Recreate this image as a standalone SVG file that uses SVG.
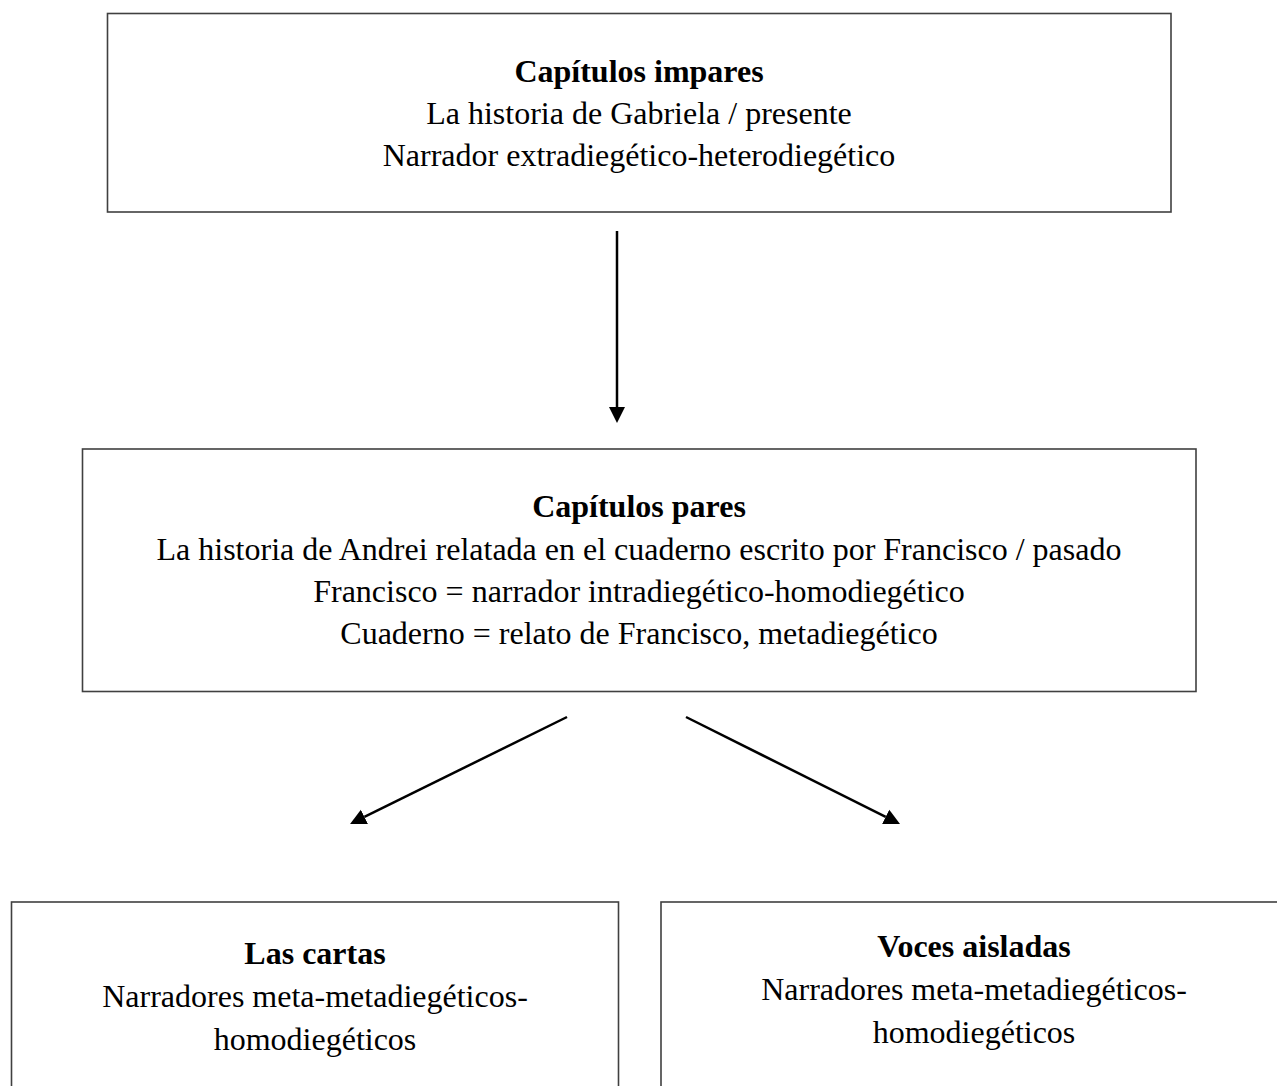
<svg xmlns="http://www.w3.org/2000/svg" width="1277" height="1086" viewBox="0 0 1277 1086">
<style>
.box{fill:#fff;stroke:#404040;stroke-width:1.6}
text{font-family:"Liberation Serif","Times New Roman",serif;font-size:32px;fill:#000;text-anchor:middle}
.t{font-weight:bold}
.c{fill:none;stroke:#000;stroke-width:2.5}
</style>
<defs>
<marker id="ah" markerUnits="userSpaceOnUse" markerWidth="18" markerHeight="18" viewBox="0 -9 18 18" refX="0" refY="0" orient="auto">
<path d="M0,-8 L16,0 L0,8 z" fill="#000"/>
</marker>
</defs>
<rect width="1277" height="1086" fill="#fff"/>
<g id="n1">
<rect class="box" x="107.5" y="13.5" width="1063.5" height="198.5"/>
<text class="t" x="639" y="82">Capítulos impares</text>
<text x="639" y="124">La historia de Gabriela / presente</text>
<text x="639" y="165.5">Narrador extradiegético-heterodiegético</text>
</g>
<g id="n2">
<rect class="box" x="82.5" y="449" width="1113.5" height="242.5"/>
<text class="t" x="639" y="517">Capítulos pares</text>
<text x="639" y="559.5">La historia de Andrei relatada en el cuaderno escrito por Francisco / pasado</text>
<text x="639" y="601.5">Francisco = narrador intradiegético-homodiegético</text>
<text x="639" y="643.5">Cuaderno = relato de Francisco, metadiegético</text>
</g>
<g id="n3">
<rect class="box" x="11.5" y="902" width="607" height="200"/>
<text class="t" x="315" y="963.5">Las cartas</text>
<text x="315" y="1007">Narradores meta-metadiegéticos-</text>
<text x="315" y="1050">homodiegéticos</text>
</g>
<g id="n4">
<rect class="box" x="661" y="902" width="630" height="200"/>
<text class="t" x="974" y="957">Voces aisladas</text>
<text x="974" y="1000">Narradores meta-metadiegéticos-</text>
<text x="974" y="1043">homodiegéticos</text>
</g>
<g id="connectors">
<path class="c" d="M617,231 L617,407" marker-end="url(#ah)"/>
<path class="c" d="M567,717 L364.4,816.9" marker-end="url(#ah)"/>
<path class="c" d="M686,717 L885.7,816.85" marker-end="url(#ah)"/>
</g>
</svg>
